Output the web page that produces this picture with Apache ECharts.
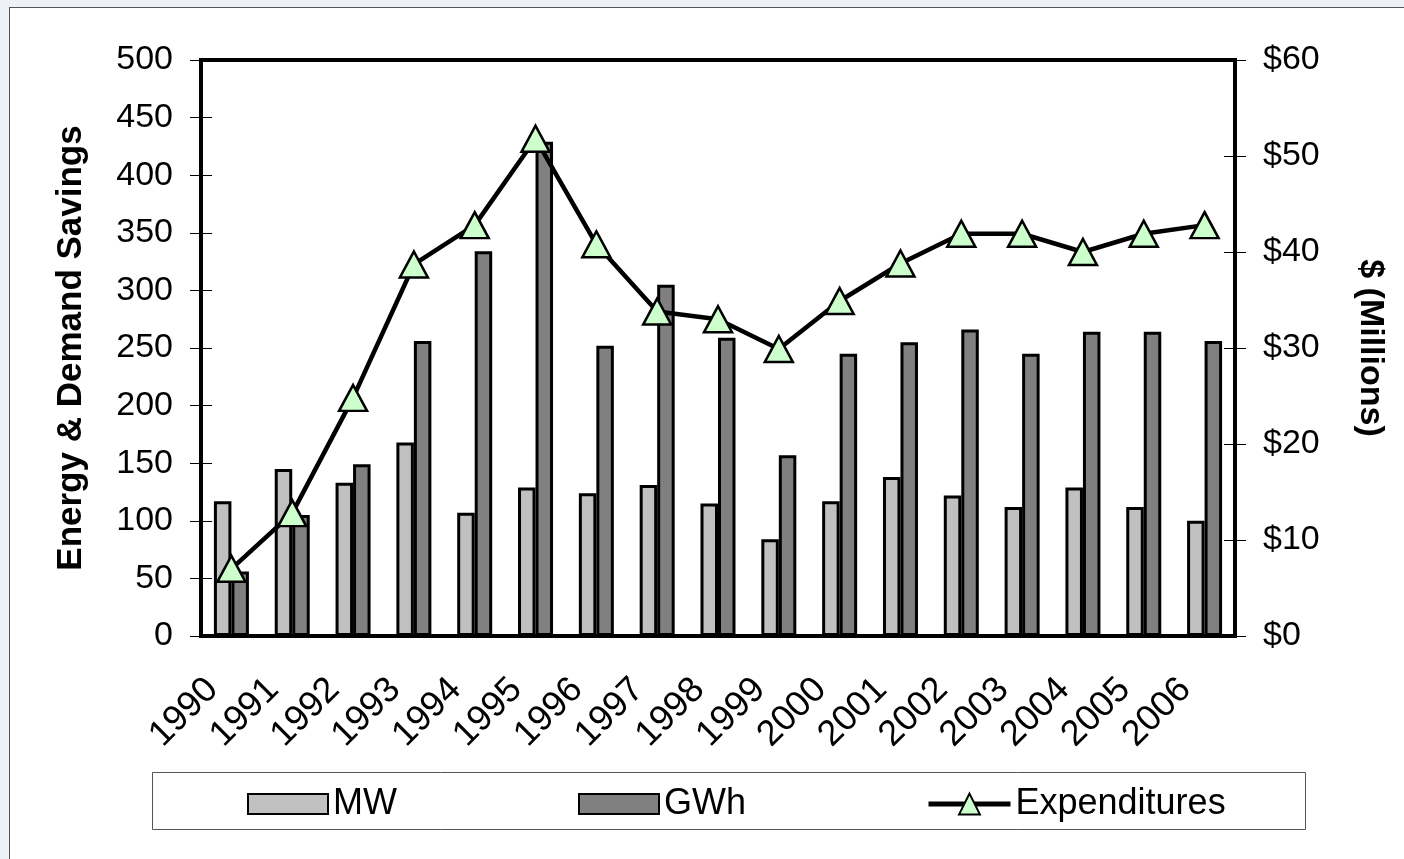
<!DOCTYPE html>
<html>
<head>
<meta charset="utf-8">
<script src="https://cdn.jsdelivr.net/npm/echarts@6/dist/echarts.min.js"></script>
<style>
  html, body { margin: 0; padding: 0; background: #eef2f8; }
  #panel { position: absolute; left: 9px; top: 7px; width: 1420px; height: 900px; background: #fff; border: 1px solid #555; }
  #chart { position: absolute; left: 0; top: 0; width: 1404px; height: 859px; }
</style>
</head>
<body>
<div id="panel"></div>
<div id="chart"></div>
<script>
// 年份
const years = ["1990", "1991", "1992", "1993", "1994", "1995", "1996", "1997", "1998",
  "1999", "2000", "2001", "2002", "2003", "2004", "2005", "2006"]
// 需求节省 MW
const mwValues = [117, 145, 133, 168, 107, 129, 124, 131, 115, 84, 117, 138, 122, 112, 129, 112, 100]
// 能源节省 GWh
const gwhValues = [56, 105, 149, 256, 334, 429, 252, 305, 259, 157, 245, 255, 266, 245, 264, 264, 256]
// 支出 (百万美元)
const expValues = [7.0, 12.8, 24.8, 38.7, 42.8, 51.8, 40.8, 33.8, 33.0, 29.9, 34.9, 38.8, 41.9, 41.9, 40.0, 41.9, 42.8]
const leftTicks = [0, 500, 50]
const rightTicks = [0, 60, 10]

const FONT = "Liberation Sans, Arial, sans-serif"
const tickStyle = { lineStyle: { color: "#000", width: 1 }, length: 11 }
const legendText = { fontSize: 36, fontFamily: FONT, color: "#000" }

const chart = echarts.init(document.getElementById("chart"), null, { renderer: "canvas" })

const option = {
  backgroundColor: "transparent",
  animation: false,
  textStyle: { fontFamily: FONT, color: "#000" },
  grid: {
    left: 201, right: 169, top: 60, bottom: 223,
    show: true, borderColor: "#000", borderWidth: 4, backgroundColor: "transparent"
  },
  graphic: [{
    type: "rect",
    shape: { x: 152.5, y: 772.5, width: 1153, height: 57 },
    style: { fill: "none", stroke: "#555", lineWidth: 1 }
  }],
  legend: [
    {
      data: ["MW"], left: 242, top: 781, itemWidth: 80, itemHeight: 20, icon: "rect",
      textStyle: legendText
    },
    {
      data: ["GWh"], left: 573, top: 781, itemWidth: 80, itemHeight: 20, icon: "rect",
      textStyle: legendText
    },
    {
      data: ["Expenditures"], left: 921, top: 781, itemWidth: 82, itemHeight: 26,
      lineStyle: { width: 5 },
      textStyle: legendText
    }
  ],
  xAxis: [
    {
      type: "category", data: years, position: "bottom", boundaryGap: true,
      axisLine: { lineStyle: { color: "#000", width: 4 } },
      axisTick: { ...tickStyle },
      axisLabel: {
        rotate: 45, margin: 29, fontSize: 36, fontFamily: FONT, color: "#000",
        padding: [0, 27, 0, 0], interval: 0
      }
    },
    {
      type: "category", data: years, position: "bottom", boundaryGap: true,
      axisLine: { show: false },
      axisTick: { ...tickStyle, inside: true },
      axisLabel: { show: false }
    }
  ],
  yAxis: [
    {
      type: "value", position: "left",
      min: leftTicks[0], max: leftTicks[1], interval: leftTicks[2],
      name: "Energy & Demand Savings", nameLocation: "middle", nameGap: 112, nameRotate: 90,
      nameTextStyle: { fontSize: 35, fontWeight: "bold", fontFamily: FONT, color: "#000" },
      axisLine: { show: true, lineStyle: { color: "#000", width: 4 } },
      axisTick: { show: true, ...tickStyle },
      axisLabel: { margin: 28, fontSize: 34, fontFamily: FONT, color: "#000" },
      splitLine: { show: false }
    },
    {
      type: "value", position: "left",
      min: leftTicks[0], max: leftTicks[1], interval: leftTicks[2],
      axisLine: { show: false },
      axisTick: { show: true, inside: true, ...tickStyle },
      axisLabel: { show: false },
      splitLine: { show: false }
    },
    {
      type: "value", position: "right",
      min: rightTicks[0], max: rightTicks[1], interval: rightTicks[2],
      name: "$ (Millions)", nameLocation: "middle", nameGap: 118, nameRotate: -90,
      nameTextStyle: { fontSize: 34, fontWeight: "bold", fontFamily: FONT, color: "#000" },
      axisLine: { show: true, lineStyle: { color: "#000", width: 4 } },
      axisTick: { show: true, ...tickStyle },
      axisLabel: { margin: 28, fontSize: 34, fontFamily: FONT, color: "#000", formatter: "${value}" },
      splitLine: { show: false }
    },
    {
      type: "value", position: "right",
      min: rightTicks[0], max: rightTicks[1], interval: rightTicks[2],
      axisLine: { show: false },
      axisTick: { show: true, inside: true, ...tickStyle },
      axisLabel: { show: false },
      splitLine: { show: false }
    }
  ],
  series: [
    {
      name: "MW", type: "bar", data: mwValues, xAxisIndex: 0, yAxisIndex: 0,
      barWidth: 17.5, barGap: "0%",
      itemStyle: { color: "#c0c0c0", borderColor: "#000", borderWidth: 3 }
    },
    {
      name: "GWh", type: "bar", data: gwhValues, xAxisIndex: 0, yAxisIndex: 0,
      barWidth: 17.5, barGap: "0%",
      itemStyle: { color: "#808080", borderColor: "#000", borderWidth: 3 }
    },
    {
      name: "Expenditures", type: "line", data: expValues, xAxisIndex: 0, yAxisIndex: 2,
      symbol: "triangle", symbolSize: [28, 26], z: 5,
      lineStyle: { color: "#000", width: 4.5 },
      itemStyle: { color: "#ccffcc", borderColor: "#000", borderWidth: 2.5 }
    }
  ]
}

chart.setOption(option)
window.addEventListener("resize", chart.resize)
</script>
</body>
</html>
